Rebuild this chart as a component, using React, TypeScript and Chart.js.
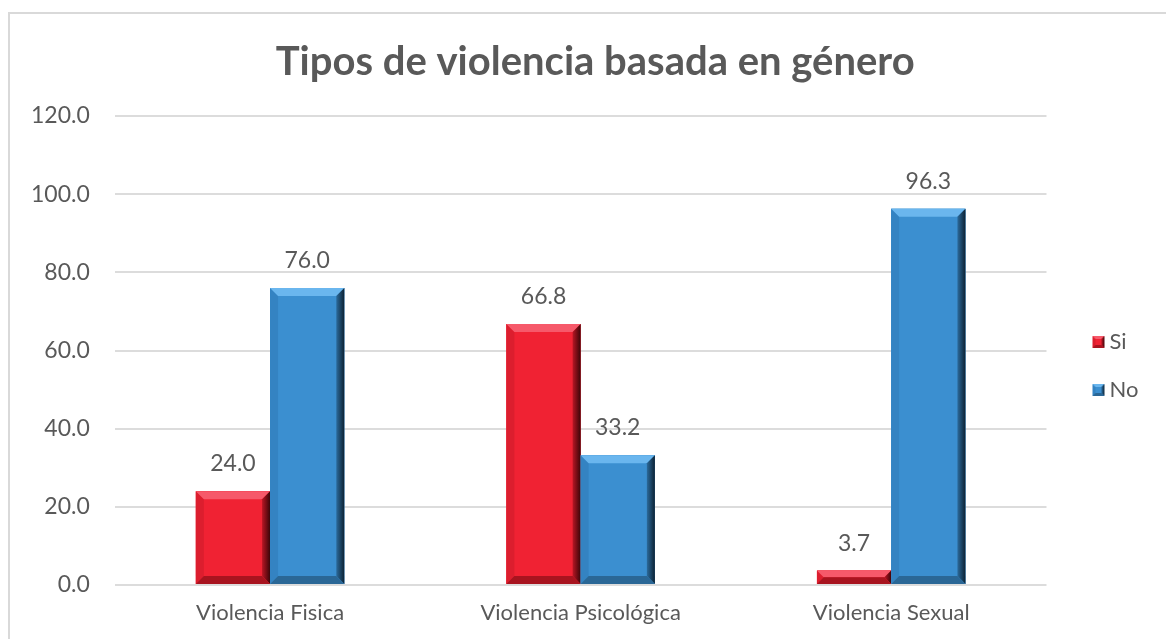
import { useEffect, useRef } from 'react';
import { Chart, registerables } from 'chart.js';

Chart.register(...registerables);

const categories = ['Violencia Fisica', 'Violencia Psicológica', 'Violencia Sexual'];
const seriesNames = ['Si', 'No'];
const siValues = [24.0, 66.8, 3.7];
const noValues = [76.0, 33.2, 96.3];
const yMin = 0;
const yMax = 120;
const yStep = 20;
const titleText = 'Tipos de violencia basada en género';

const FONT = 'Lato';
const TEXT = '#595959';

type Pal = { face: string; top: string; left: string; bottom: string; right0: string; right1: string };

const RED: Pal = { face: '#f02233', top: '#f6596a', left: '#dc1e2e', bottom: '#a8141f', right0: '#b81624', right1: '#3c0508' };
const BLUE: Pal = { face: '#3b8fd0', top: '#6ab6ee', left: '#3483c2', bottom: '#2a6796', right0: '#2b6a9b', right1: '#0d2233' };

function poly(ctx: CanvasRenderingContext2D, pts: number[][], fill: string | CanvasGradient) {
  ctx.beginPath();
  ctx.moveTo(pts[0][0], pts[0][1]);
  for (let i = 1; i < pts.length; i++) ctx.lineTo(pts[i][0], pts[i][1]);
  ctx.closePath();
  ctx.fillStyle = fill;
  ctx.fill();
}

function bevel(ctx: CanvasRenderingContext2D, l: number, t: number, r: number, btm: number, bSize: number, p: Pal) {
  const b = Math.min(bSize, (btm - t) / 2, (r - l) / 2);
  poly(ctx, [[l, t], [r, t], [r, btm], [l, btm]], p.face);
  poly(ctx, [[l, t], [l + b, t + b], [l + b, btm - b], [l, btm]], p.left);
  poly(ctx, [[l, t], [r, t], [r - b, t + b], [l + b, t + b]], p.top);
  const g = ctx.createLinearGradient(r - b, 0, r, 0);
  g.addColorStop(0, p.right0);
  g.addColorStop(1, p.right1);
  poly(ctx, [[r, t], [r, btm], [r - b, btm - b], [r - b, t + b]], g);
  poly(ctx, [[l, btm], [r, btm], [r - b, btm - b], [l + b, btm - b]], p.bottom);
}

function makeMarker(p: Pal): HTMLCanvasElement {
  const c = document.createElement('canvas');
  c.width = 40;
  c.height = 12;
  const ctx = c.getContext('2d')!;
  bevel(ctx, 27, 0, 39, 12, 3, p);
  return c;
}

const frame = {
  id: 'frame',
  afterLayout(chart: any) {
    if (chart.titleBlock) chart.titleBlock.left += 36;
  },
  beforeDraw(chart: any) {
    const ctx = chart.ctx as CanvasRenderingContext2D;
    ctx.save();
    ctx.fillStyle = '#ffffff';
    ctx.fillRect(0, 0, chart.width, chart.height);
    ctx.strokeStyle = '#d9d9d9';
    ctx.lineWidth = 2;
    ctx.strokeRect(9, 13, chart.width + 20, chart.height + 20);
    ctx.restore();
  },
};

const bevelBars = {
  id: 'bevelBars',
  afterDatasetsDraw(chart: any) {
    const ctx = chart.ctx as CanvasRenderingContext2D;
    ctx.save();
    chart.data.datasets.forEach((ds: any, di: number) => {
      const meta = chart.getDatasetMeta(di);
      const pal = di === 0 ? RED : BLUE;
      meta.data.forEach((el: any, i: number) => {
        const { x, y, base, width } = el.getProps(['x', 'y', 'base', 'width'], true);
        bevel(ctx, x - width / 2, Math.min(y, base), x + width / 2, Math.max(y, base), 8, pal);
        ctx.fillStyle = TEXT;
        ctx.font = `23px ${FONT}`;
        ctx.textAlign = 'center';
        ctx.textBaseline = 'alphabetic';
        ctx.fillText(Number(ds.data[i]).toFixed(1), x, y - 20);
      });
    });
    ctx.restore();
  },
};

export default function App() {
  const ref = useRef<HTMLCanvasElement>(null);
  useEffect(() => {
    const chart = new Chart(ref.current!, {
      type: 'bar',
      data: {
        labels: categories,
        datasets: [
          { label: seriesNames[0], data: siValues, backgroundColor: RED.face, borderWidth: 0, pointStyle: makeMarker(RED) as any },
          { label: seriesNames[1], data: noValues, backgroundColor: BLUE.face, borderWidth: 0, pointStyle: makeMarker(BLUE) as any },
        ],
      },
      options: {
        responsive: false,
        animation: false,
        layout: { padding: { top: 20, left: 6, right: 17.6, bottom: 18.6 } },
        datasets: { bar: { categoryPercentage: 0.478, barPercentage: 1.0 } },
        plugins: {
          title: {
            display: true,
            text: titleText,
            color: TEXT,
            font: { family: FONT, size: 40, weight: 'bold' },
            padding: { top: 18, bottom: 30 },
          },
          legend: {
            position: 'right',
            title: {
              display: true,
              text: ' ',
              color: 'rgba(0,0,0,0)',
              font: { family: FONT, size: 10 },
              padding: { top: 58.6, bottom: 0 },
            },
            labels: {
              usePointStyle: true,
              pointStyleWidth: 26,
              padding: 26,
              color: TEXT,
              font: { family: FONT, size: 22 },
            },
          },
          tooltip: { enabled: false },
        },
        scales: {
          x: {
            grid: { display: false, drawTicks: false },
            border: { display: false },
            ticks: { color: TEXT, font: { family: FONT, size: 22 }, padding: 15 },
          },
          y: {
            min: yMin,
            max: yMax,
            grid: { color: '#dcdcdc', lineWidth: 2, drawTicks: false },
            border: { display: false },
            ticks: {
              stepSize: yStep,
              color: TEXT,
              font: { family: FONT, size: 23 },
              padding: 25,
              callback: (v: any) => Number(v).toFixed(1),
            },
          },
        },
      },
      plugins: [frame, bevelBars],
    });
    return () => chart.destroy();
  }, []);
  return (
    <div style={{ position: 'fixed', left: 0, top: 0, width: 1166, height: 639, overflow: 'hidden', background: '#fff' }}>
      <canvas ref={ref} width={1166} height={660} style={{ display: 'block' }} />
    </div>
  );
}
